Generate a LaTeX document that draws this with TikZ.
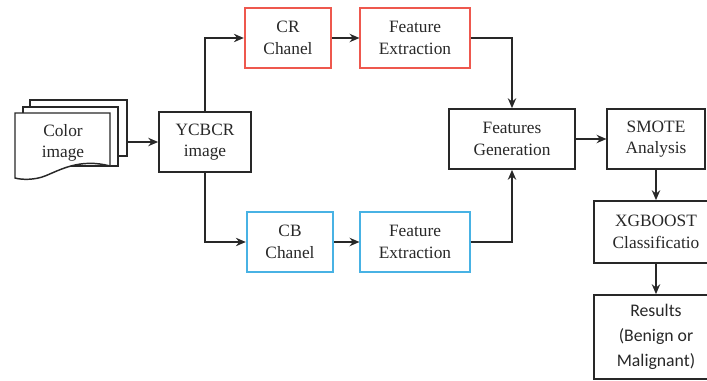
\documentclass[tikz,border=0pt]{standalone}
\usepackage{fontspec}
\setmainfont{Liberation Serif}
\newfontfamily\resfont{Carlito}
\usetikzlibrary{positioning, arrows.meta, calc}
\definecolor{ink}{RGB}{40,40,40}
\definecolor{crred}{RGB}{238,88,78}
\definecolor{cbblue}{RGB}{72,178,228}
\tikzset{
    stepbox/.style={draw=ink, fill=white, line width=1.3pt, align=center, text=ink, inner sep=0pt, font=\fontsize{13}{16}\selectfont, minimum height=45pt},
    crbox/.style={stepbox, draw=crred},
    cbbox/.style={stepbox, draw=cbblue},
    sheet/.style={draw=ink, fill=white, line width=1.1pt},
}

\begin{document}
\begin{tikzpicture}[x=0.75pt, y=-0.75pt, >={Stealth[length=2.6mm, width=2.2mm]}, line width=1.3pt, draw=ink]
\useasboundingbox (0,0) rectangle (707,380);
% stack of sheets
\path[sheet] (30,100) rectangle (127,156);
\path[sheet] (23,107) rectangle (118,166);
\path[sheet] (15,113) -- (110,113) -- (110,166) .. controls (80,158) and (60,170) .. (45,176) .. controls (35,180) and (22,180) .. (15,178) -- cycle;
\node[text=ink, align=center, font=\fontsize{13}{16}\selectfont] (col) at (63,143) {Color\\image};
\coordinate (stack) at (127,142);
% boxes
\node[stepbox, minimum width=69pt] (ycbcr) at (205,142) {YCBCR\\image};
\node[crbox, minimum width=65pt] (cr) at (288,38) {CR\\Chanel};
\node[crbox, minimum width=82pt] (fecr) at (415,38) {Feature\\Extraction};
\node[cbbox, minimum width=65pt] (cb) at (290,242) {CB\\Chanel};
\node[cbbox, minimum width=82pt] (fecb) at (415,242) {Feature\\Extraction};
\node[stepbox, minimum width=95pt] (fg) at (512,139) {Features\\Generation};
\node[stepbox, minimum width=73pt] (smote) at (656,139) {SMOTE\\Analysis};
\node[stepbox, minimum width=93pt, minimum height=46.5pt] (xgb) at (656,232) {XGBOOST\\Classificatio};
\node[stepbox, minimum width=93pt, minimum height=63pt, font=\resfont\fontsize{13.3}{19}\selectfont] (res) at (656,337) {Results\\(Benign or\\Malignant)};
% arrows
\draw[->] (stack) -- (ycbcr);
\draw[->] (ycbcr.north) |- (cr.west);
\draw[->] (ycbcr.south) |- (cb.west);
\draw[->] (cr) -- (fecr);
\draw[->] (cb) -- (fecb);
\draw[->] (fecr.east) -| (fg.north);
\draw[->] (fecb.east) -| (fg.south);
\draw[->] (fg) -- (smote);
\draw[->] (smote) -- (xgb);
\draw[->] (xgb) -- (res);
\end{tikzpicture}
\end{document}
